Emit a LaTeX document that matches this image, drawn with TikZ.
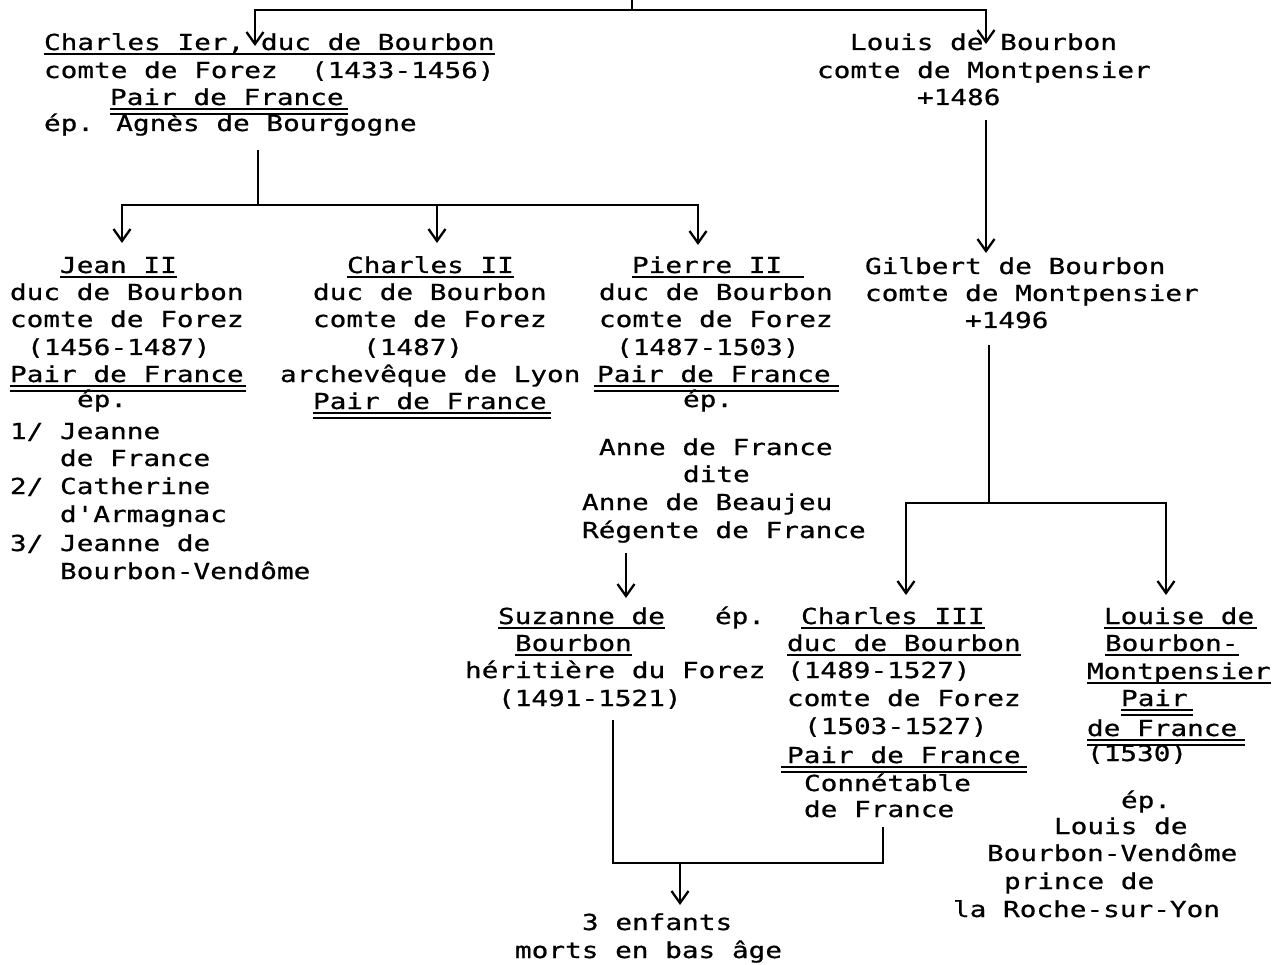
\documentclass[tikz,border=0pt]{standalone}
\usepackage{fontspec}
\usetikzlibrary{arrows.meta}
\newfontfamily\tw{DejaVu Sans Mono}[FakeStretch=1.26,FakeBold=0.7]
\tikzset{
  txt/.style={anchor=base west, inner sep=0pt, outer sep=0pt, font=\tw\fontsize{22}{27}\selectfont},
  lnk/.style={line width=2.3pt},
  arr/.style={lnk, -{Straight Barb[length=12pt,width=17pt]}},
  ul/.style={line width=1.8pt},
}
\newcommand\tline[4]{\node[txt] (#1) at (#2,#3+6) {#4};}
\newcommand\ulone[3]{\draw[ul] ([xshift=#2,yshift=-4pt]#1.base west) -- ([xshift=#3,yshift=-4pt]#1.base east);}
\newcommand\ultwo[3]{\draw[ul] ([xshift=#2,yshift=-4pt]#1.base west) -- ([xshift=#3,yshift=-4pt]#1.base east);
  \draw[ul] ([xshift=#2,yshift=-9pt]#1.base west) -- ([xshift=#3,yshift=-9pt]#1.base east);}
\begin{document}
\begin{tikzpicture}[x=1pt,y=-1pt]
\useasboundingbox (0,0) rectangle (1274,965);
% Charles Ier
\tline{A1}{44}{44}{Charles Ier, duc de Bourbon}
\tline{A2}{44}{72}{comte de Forez\ \ (1433-1456)}
\tline{A3}{110}{99}{Pair de France}
\tline{A4}{44}{125}{ép. Agnès de Bourgogne}
\ulone{A1}{0pt}{0pt}
\ultwo{A3}{0pt}{4pt}
% Louis
\tline{B1}{850}{44}{Louis de Bourbon}
\tline{B2}{817}{72}{comte de Montpensier}
\tline{B3}{917}{99}{+1486}
% Jean II
\tline{C1}{60}{267}{Jean II}
\tline{C2}{10}{294}{duc de Bourbon}
\tline{C3}{10}{321}{comte de Forez}
\tline{C4}{27}{349}{(1456-1487)}
\tline{C5}{10}{376}{Pair de France}
\tline{C6}{77}{401}{ép.}
\tline{C7}{10}{433}{1/ Jeanne}
\tline{C8}{60}{460}{de France}
\tline{C9}{10}{488}{2/ Catherine}
\tline{C10}{60}{516}{d'Armagnac}
\tline{C11}{10}{545}{3/ Jeanne de}
\tline{C12}{60}{573}{Bourbon-Vendôme}
\ulone{C1}{0pt}{0pt}
\ultwo{C5}{0pt}{2pt}
% Charles II
\tline{D1}{347}{267}{Charles II}
\tline{D2}{313}{294}{duc de Bourbon}
\tline{D3}{313}{321}{comte de Forez}
\tline{D4}{363}{349}{(1487)}
\tline{D5}{280}{376}{archevêque de Lyon}
\tline{D6}{313}{403}{Pair de France}
\ulone{D1}{0pt}{0pt}
\ultwo{D6}{0pt}{4pt}
% Pierre II
\tline{E1}{632}{267}{Pierre II}
\tline{E2}{599}{294}{duc de Bourbon}
\tline{E3}{599}{321}{comte de Forez}
\tline{E4}{616}{349}{(1487-1503)}
\tline{E5}{597}{376}{Pair de France}
\tline{E6}{683}{401}{ép.}
\tline{E7}{599}{449}{Anne de France}
\tline{E8}{683}{476}{dite}
\tline{E9}{582}{504}{Anne de Beaujeu}
\tline{E10}{582}{532}{Régente de France}
\ulone{E1}{0pt}{22pt}
\ultwo{E5}{-3pt}{8pt}
% Gilbert
\tline{G1}{865}{268}{Gilbert de Bourbon}
\tline{G2}{865}{295}{comte de Montpensier}
\tline{G3}{965}{322}{+1496}
% Suzanne
\tline{S1}{498}{618}{Suzanne de}
\tline{S2}{515}{645}{Bourbon}
\tline{S3}{465}{672}{héritière du Forez}
\tline{S4}{498}{700}{(1491-1521)}
\tline{SE}{715}{618}{ép.}
\ulone{S1}{0pt}{0pt}
\ulone{S2}{0pt}{0pt}
% Charles III
\tline{H1}{801}{618}{Charles III}
\tline{H2}{787}{645}{duc de Bourbon}
\tline{H3}{787}{672}{(1489-1527)}
\tline{H4}{787}{700}{comte de Forez}
\tline{H5}{804}{728}{(1503-1527)}
\tline{H6}{787}{757}{Pair de France}
\tline{H7}{804}{785}{Connétable}
\tline{H8}{804}{811}{de France}
\ulone{H1}{0pt}{0pt}
\ulone{H2}{0pt}{0pt}
\ultwo{H6}{-6pt}{6pt}
% Louise
\tline{L1}{1104}{618}{Louise de}
\tline{L2}{1105}{645}{Bourbon-}
\tline{L3}{1087}{673}{Montpensier}
\tline{L4}{1121}{700}{Pair}
\tline{L5}{1087}{730}{de France}
\tline{L6}{1087}{755}{(1530)}
\tline{L7}{1121}{802}{ép.}
\tline{L8}{1054}{828}{Louis de}
\tline{L9}{987}{855}{Bourbon-Vendôme}
\tline{L10}{1004}{883}{prince de}
\tline{L11}{953}{911}{la Roche-sur-Yon}
\ulone{L1}{0pt}{3pt}
\ulone{L2}{0pt}{0pt}
\ulone{L3}{0pt}{0pt}
\ultwo{L4}{0pt}{5pt}
\ultwo{L5}{0pt}{8pt}
% enfants
\tline{K1}{582}{924}{3 enfants}
\tline{K2}{515}{952}{morts en bas âge}
% connector coordinates
\coordinate (p0) at (632,0);
\coordinate (p1) at (632,10);
\coordinate (tA) at (255,46);
\coordinate (tB) at (986,44);
\coordinate (a0) at (258,150);
\coordinate (j1) at (258,205);
\coordinate (tC) at (122,243);
\coordinate (tD) at (437,243);
\coordinate (tE) at (698,245);
\coordinate (b0) at (986,120);
\coordinate (tG) at (986,253);
\coordinate (g0) at (989,345);
\coordinate (j2) at (989,503);
\coordinate (tH) at (906,595);
\coordinate (tL) at (1166,595);
\coordinate (e0) at (626,553);
\coordinate (tS) at (626,598);
\coordinate (s0) at (613,720);
\coordinate (h0) at (883,827);
\coordinate (j3) at (680,863);
\coordinate (tK) at (680,905);
% connectors
\draw[lnk] (p0) -- (p1);
\draw[arr] (p1) -| (tA);
\draw[arr] (p1) -| (tB);
\draw[lnk] (a0) -- (j1);
\draw[arr] (j1) -| (tC);
\draw[arr] (j1) -| (tD);
\draw[arr] (j1) -| (tE);
\draw[arr] (b0) -- (tG);
\draw[lnk] (g0) -- (j2);
\draw[arr] (j2) -| (tH);
\draw[arr] (j2) -| (tL);
\draw[arr] (e0) -- (tS);
\draw[lnk] (s0) |- (j3) -| (h0);
\draw[arr] (j3) -- (tK);
\end{tikzpicture}
\end{document}
